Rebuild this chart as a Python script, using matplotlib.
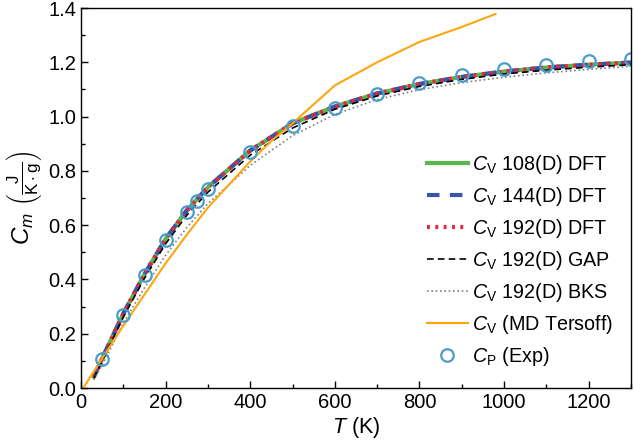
import matplotlib
matplotlib.use("Agg")
import matplotlib.pyplot as plt
import numpy as np
from matplotlib.ticker import MultipleLocator

plt.rcParams['font.family'] = ['Liberation Sans', 'DejaVu Sans']
plt.rcParams['mathtext.fontset'] = 'custom'
plt.rcParams['mathtext.rm'] = 'Liberation Sans'
plt.rcParams['mathtext.it'] = 'Liberation Sans:italic'
plt.rcParams['mathtext.bf'] = 'Liberation Sans:bold'

# temperatures (K)
T_dft = [30, 50, 100, 150, 200, 250, 300, 400, 500, 600, 700, 800, 900, 1000, 1100, 1200, 1300]
cv_108 = [0.042, 0.11, 0.275, 0.42, 0.55, 0.655, 0.74, 0.875, 0.975, 1.037, 1.085, 1.12, 1.146, 1.166, 1.181, 1.191, 1.199]
cv_144 = [0.042, 0.11, 0.275, 0.42, 0.55, 0.655, 0.74, 0.875, 0.975, 1.037, 1.085, 1.12, 1.146, 1.166, 1.181, 1.191, 1.199]
cv_192 = [0.042, 0.11, 0.275, 0.42, 0.55, 0.655, 0.74, 0.875, 0.975, 1.037, 1.085, 1.12, 1.146, 1.166, 1.181, 1.191, 1.199]
cv_gap = [0.036, 0.10, 0.262, 0.405, 0.532, 0.637, 0.722, 0.858, 0.958, 1.027, 1.076, 1.111, 1.137, 1.157, 1.171, 1.182, 1.191]
cv_bks = [0.03, 0.085, 0.24, 0.37, 0.49, 0.592, 0.68, 0.82, 0.93, 1.008, 1.063, 1.099, 1.125, 1.145, 1.161, 1.174, 1.185]

T_ters = [5, 50, 100, 150, 200, 250, 300, 350, 400, 450, 500, 600, 700, 800, 900, 980]
cv_ters = [0.0, 0.11, 0.23, 0.345, 0.46, 0.565, 0.665, 0.75, 0.835, 0.91, 0.975, 1.115, 1.2, 1.275, 1.33, 1.378]

T_exp = [50, 100, 150, 200, 250, 273, 300, 400, 500, 600, 700, 800, 900, 1000, 1100, 1200, 1300]
cp_exp = [0.107, 0.268, 0.415, 0.545, 0.648, 0.69, 0.735, 0.87, 0.965, 1.033, 1.083, 1.124, 1.153, 1.174, 1.19, 1.205, 1.212]

fig = plt.figure(figsize=(6.34, 4.45), dpi=100)
ax = fig.add_axes([0.128, 0.128, 0.867, 0.854])

ax.plot(T_dft, cv_108, color='#5ab54b', lw=3, label=r'$C_\mathrm{V}$ 108(D) DFT')
ax.plot(T_dft, cv_144, color='#3a55a6', lw=3, ls=(0, (3, 2.5)), label=r'$C_\mathrm{V}$ 144(D) DFT')
ax.plot(T_dft, cv_192, color='#e8243f', lw=3, ls=(0, (0.7, 1.3)), label=r'$C_\mathrm{V}$ 192(D) DFT')
ax.plot(T_dft, cv_gap, color='black', lw=1.2, ls=(0, (4, 2.5)), label=r'$C_\mathrm{V}$ 192(D) GAP')
ax.plot(T_dft, cv_bks, color='#808080', lw=1.2, ls=(0, (1, 1.6)), label=r'$C_\mathrm{V}$ 192(D) BKS')
ax.plot(T_ters, cv_ters, color='#ffa60f', lw=1.5, label=r'$C_\mathrm{V}$ (MD Tersoff)')
ax.plot(T_exp, cp_exp, ls='none', marker='o', ms=9, mfc='none', mec='#4b9dc9', mew=1.6,
        label=r'$C_\mathrm{P}$ (Exp)')

ax.set_xlim(0, 1300)
ax.set_ylim(0, 1.4)
ax.xaxis.set_major_locator(MultipleLocator(200))
ax.xaxis.set_minor_locator(MultipleLocator(100))
ax.yaxis.set_major_locator(MultipleLocator(0.2))
ax.yaxis.set_minor_locator(MultipleLocator(0.1))
ax.yaxis.set_major_formatter(matplotlib.ticker.FormatStrFormatter('%.1f'))
ax.tick_params(which='both', direction='in', labelsize=14.5, width=1, top=False, right=False)
ax.tick_params(which='major', length=5)
ax.tick_params(which='minor', length=3)
for s in ax.spines.values():
    s.set_linewidth(1)

ax.set_xlabel(r'$T$ (K)', fontsize=15.5, labelpad=2)
ax.set_ylabel(r'$C_m\ \left(\frac{\mathrm{J}}{\mathrm{K\cdot g}}\right)$', fontsize=17.5, labelpad=3)

ax.legend(loc='lower right', bbox_to_anchor=(1.0, 0.005), frameon=False, fontsize=14.2,
          handlelength=2.1, handletextpad=0.2, labelspacing=0.46)

fig.savefig('out.png', dpi=100)
